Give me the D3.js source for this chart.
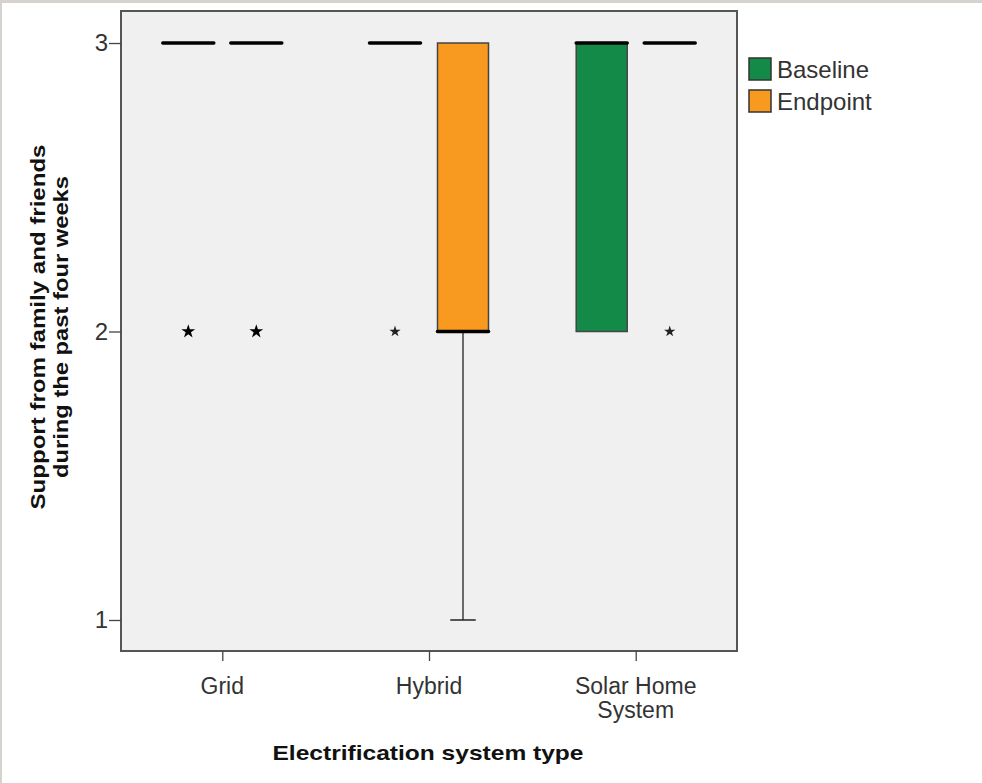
<!DOCTYPE html>
<html>
<head>
<meta charset="utf-8">
<script src="https://cdn.jsdelivr.net/npm/d3@7"></script>
<style>
  body { margin: 0; background: #fff; }
  text { font-family: "Liberation Sans", Arial, sans-serif; }
</style>
</head>
<body>
<div id="chart"></div>
<script>
// categories and groups
var categories = ["Grid", "Hybrid", "Solar Home System"];
var groups = ["Baseline", "Endpoint"];

// box statistics, one row per category, [Baseline, Endpoint]
var whiskerLow = [[3, 3], [3, 1], [2, 3]];
var q1 = [[3, 3], [3, 2], [2, 3]];
var median = [[3, 3], [3, 2], [3, 3]];
var q3 = [[3, 3], [3, 3], [3, 3]];
var whiskerHigh = [[3, 3], [3, 3], [3, 3]];
// extreme values (stars)
var extremes = [[[2], [2]], [[2], []], [[], [2]]];

var yTicks = [1, 2, 3];
var categoryLabels = [["Grid"], ["Hybrid"], ["Solar Home", "System"]];
var groupColors = ["#138a47", "#f89a1f"];

var W = 982, H = 783;
var plot = { left: 121, right: 737, top: 11, bottom: 651 };

var svg = d3.select("#chart")
  .append("svg")
  .attr("width", W)
  .attr("height", H);

// window frame strips
svg.append("rect").attr("x", 0).attr("y", 0).attr("width", W).attr("height", 3).attr("fill", "#d6d3ce");
svg.append("rect").attr("x", 0).attr("y", 0).attr("width", 2).attr("height", H).attr("fill", "#d6d3ce");

// scales
var y = d3.scaleLinear()
  .domain([1 - 0.1075, 3 + 0.111])
  .range([plot.bottom, plot.top]);

var x = d3.scalePoint()
  .domain(categories)
  .range([plot.left, plot.right])
  .padding(0.49);

var xSub = d3.scalePoint()
  .domain(groups)
  .range([-34, 34]);

var boxW = 51;

// plot background
svg.append("rect")
  .attr("x", plot.left)
  .attr("y", plot.top)
  .attr("width", plot.right - plot.left)
  .attr("height", plot.bottom - plot.top)
  .attr("fill", "#f0f0f0")
  .attr("stroke", "#555")
  .attr("stroke-width", 2);

// Y axis
var yAxis = svg.append("g")
  .attr("transform", "translate(" + plot.left + ",0)")
  .call(d3.axisLeft(y).tickValues(yTicks).tickFormat(d3.format("d")).tickSize(12).tickPadding(1));
yAxis.select(".domain").remove();
yAxis.selectAll("line").attr("stroke", "#444").attr("stroke-width", 1.3);
yAxis.selectAll("text")
  .attr("font-size", 24)
  .attr("fill", "#333")
  .style("font-family", "'Liberation Sans', Arial, sans-serif");

// X axis
var xAxis = svg.append("g")
  .attr("transform", "translate(0," + plot.bottom + ")")
  .call(d3.axisBottom(x).tickSize(10).tickFormat(""));
xAxis.select(".domain").remove();
xAxis.selectAll("line").attr("stroke", "#444").attr("stroke-width", 1.3);

categories.forEach(function(c, i) {
  categoryLabels[i].forEach(function(line, k) {
    svg.append("text")
      .attr("x", x(c))
      .attr("y", 694 + k * 24)
      .attr("text-anchor", "middle")
      .attr("font-size", 23)
      .attr("fill", "#333")
      .text(line);
  });
});

// axis titles
svg.append("text")
  .attr("x", 428)
  .attr("y", 760)
  .attr("text-anchor", "middle")
  .attr("font-size", 21)
  .attr("font-weight", "bold")
  .attr("fill", "#111")
  .attr("textLength", 311)
  .attr("lengthAdjust", "spacingAndGlyphs")
  .text("Electrification system type");

var yTitle = svg.append("text")
  .attr("transform", "translate(0,327) rotate(-90)")
  .attr("text-anchor", "middle")
  .attr("font-size", 21)
  .attr("font-weight", "bold")
  .attr("fill", "#111");
yTitle.append("tspan").attr("x", 0).attr("y", 45)
  .attr("textLength", 365).attr("lengthAdjust", "spacingAndGlyphs")
  .text("Support from family and friends");
yTitle.append("tspan").attr("x", 0).attr("y", 68)
  .attr("textLength", 302).attr("lengthAdjust", "spacingAndGlyphs")
  .text("during the past four weeks");

// boxes
var boxes = [];
categories.forEach(function(c, i) {
  groups.forEach(function(g, j) {
    boxes.push({
      cat: c, group: g, gi: j,
      lo: whiskerLow[i][j], q1: q1[i][j], med: median[i][j],
      q3: q3[i][j], hi: whiskerHigh[i][j], ext: extremes[i][j]
    });
  });
});

var bx = svg.append("g")
  .selectAll("g")
  .data(boxes)
  .enter()
  .append("g")
  .attr("transform", function(d) {
    return "translate(" + (x(d.cat) + xSub(d.group)) + ",0)";
  });

// whiskers
bx.filter(function(d) { return d.lo < d.q1; })
  .each(function(d) {
    var g = d3.select(this);
    g.append("line").attr("x1", 0).attr("x2", 0)
      .attr("y1", y(d.q1)).attr("y2", y(d.lo))
      .attr("stroke", "#222").attr("stroke-width", 1.3);
    g.append("line").attr("x1", -boxW / 4).attr("x2", boxW / 4)
      .attr("y1", y(d.lo)).attr("y2", y(d.lo))
      .attr("stroke", "#222").attr("stroke-width", 1.5);
  });
bx.filter(function(d) { return d.hi > d.q3; })
  .each(function(d) {
    var g = d3.select(this);
    g.append("line").attr("x1", 0).attr("x2", 0)
      .attr("y1", y(d.q3)).attr("y2", y(d.hi))
      .attr("stroke", "#222").attr("stroke-width", 1.3);
    g.append("line").attr("x1", -boxW / 4).attr("x2", boxW / 4)
      .attr("y1", y(d.hi)).attr("y2", y(d.hi))
      .attr("stroke", "#222").attr("stroke-width", 1.5);
  });

// box body
bx.filter(function(d) { return d.q3 > d.q1; })
  .append("rect")
  .attr("x", -boxW / 2)
  .attr("width", boxW)
  .attr("y", function(d) { return y(d.q3); })
  .attr("height", function(d) { return y(d.q1) - y(d.q3); })
  .attr("fill", function(d) { return groupColors[d.gi]; })
  .attr("stroke", "#444")
  .attr("stroke-width", 1.5);

// median
bx.append("line")
  .attr("x1", -boxW / 2)
  .attr("x2", boxW / 2)
  .attr("y1", function(d) { return y(d.med); })
  .attr("y2", function(d) { return y(d.med); })
  .attr("stroke", "#000")
  .attr("stroke-width", 3.5)
  .attr("stroke-linecap", "round");

// extremes
var star = d3.symbol().type(d3.symbolStar);
bx.each(function(d) {
  d3.select(this).selectAll("path.ext")
    .data(d.ext)
    .enter()
    .append("path")
    .attr("class", "ext")
    .attr("transform", function(v) { return "translate(0," + y(v) + ")"; })
    .attr("d", star.size(d.cat == "Grid" ? 60 : 40))
    .attr("fill", d.cat == "Grid" ? "#000" : "#222");
});

// legend
var legend = svg.append("g")
  .selectAll("g")
  .data(groups)
  .enter()
  .append("g")
  .attr("transform", function(d, i) { return "translate(749," + (58 + i * 32) + ")"; });
legend.append("rect")
  .attr("width", 22)
  .attr("height", 22)
  .attr("fill", function(d, i) { return groupColors[i]; })
  .attr("stroke", "#333")
  .attr("stroke-width", 1.5);
legend.append("text")
  .attr("x", 28)
  .attr("y", 20)
  .attr("font-size", 24)
  .attr("fill", "#333")
  .text(function(d) { return d; });
</script>
</body>
</html>
